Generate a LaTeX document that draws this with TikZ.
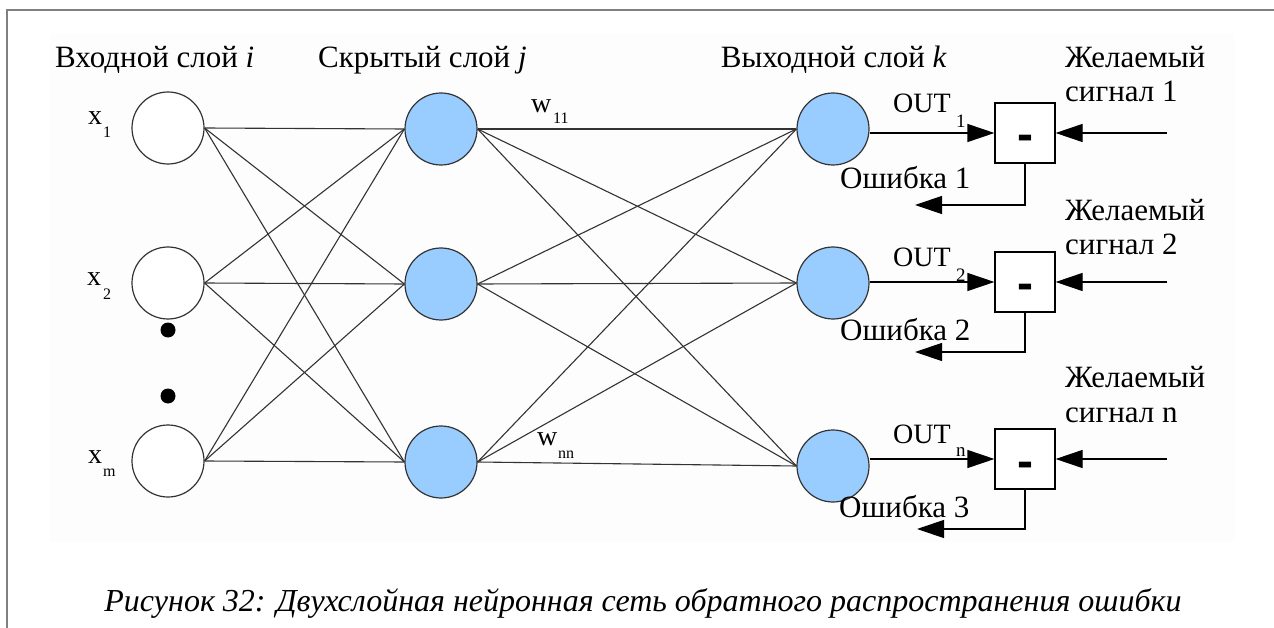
\documentclass[tikz,border=0pt]{standalone}
\usepackage{fontspec}
\setmainfont{Liberation Serif}
\newfontfamily\boxfont{Liberation Sans}
\usetikzlibrary{arrows.meta}
\definecolor{neuronblue}{HTML}{99CCFF}
\definecolor{edgegray}{HTML}{333333}
\definecolor{framegray}{HTML}{808080}
\definecolor{panelwhite}{HTML}{FDFDFD}

\begin{document}
\begin{tikzpicture}[x=1pt,y=-1pt,
  inneuron/.style={circle, draw=edgegray, line width=1.2pt, fill=white,
    minimum size=72pt, inner sep=0pt},
  neuron/.style={inneuron, fill=neuronblue},
  link/.style={draw=edgegray, line width=1.1pt},
  subbox/.style={draw=black, line width=1.2pt, fill=white,
    minimum width=60pt, minimum height=60pt, inner sep=0pt,
    text height=36pt, text depth=0pt,
    font=\fontsize{48}{48}\boxfont\bfseries},
  sig/.style={draw=black, line width=1.2pt,
    -{Triangle[length=27pt,width=18pt]}},
  lbl/.style={inner sep=0pt, font=\fontsize{31}{34}\selectfont},
  outlbl/.style={inner sep=0pt, font=\fontsize{28}{30}\selectfont},
  varlbl/.style={inner sep=0pt, font=\fontsize{28}{30}\selectfont},
  sublbl/.style={inner sep=0pt, font=\fontsize{16}{18}\selectfont},
  outsub/.style={inner sep=0pt, font=\fontsize{19}{20}\selectfont},
  dot/.style={circle, fill=black, minimum size=15pt, inner sep=0pt},
]
\useasboundingbox (0,0) rectangle (1274,628);

% page frame and faint panel behind the diagram
\fill[panelwhite] (50,33) rectangle (1235,542);
\draw[framegray, line width=2pt] (7,628) -- (7,10) -- (1274,10);

% layer headers
\node[lbl, anchor=base west] (hin) at (55,68) {Входной слой \textit{i}};
\node[lbl, anchor=base west] (hhid) at (318,68) {Скрытый слой \textit{j}};
\node[lbl, anchor=base east] (hout) at (947,68) {Выходной слой \textit{k}};

% neurons
\node[inneuron] (i1) at (168,128) {};
\node[inneuron] (i2) at (168,283) {};
\node[inneuron] (i3) at (168,461) {};
\node[neuron] (h1) at (441,129) {};
\node[neuron] (h2) at (441,284) {};
\node[neuron] (h3) at (441,462) {};
\node[neuron] (o1) at (833,129) {};
\node[neuron] (o2) at (833,283) {};
\node[neuron] (o3) at (833,466) {};

% omitted inputs
\node[dot] (dt1) at (168,330) {};
\node[dot] (dt2) at (168,396) {};

% input labels
\node[varlbl, anchor=base west] (x1) at (88,125) {x};
\node[sublbl, anchor=base west] (x1s) at (103,138) {1};
\node[varlbl, anchor=base west] (x2) at (87,286) {x};
\node[sublbl, anchor=base west] (x2s) at (103,300) {2};
\node[varlbl, anchor=base west] (x3) at (88,463) {x};
\node[sublbl, anchor=base west] (x3s) at (103,476) {m};

% full connections between layers
\foreach \a in {1,2,3}{
  \foreach \b in {1,2,3}{
    \draw[link] (i\a.east) -- (h\b.west);
    \draw[link] (h\a.east) -- (o\b.west);
  }
}

% weight labels
\node[varlbl, anchor=base west] (w1) at (531,113) {w};
\node[sublbl, anchor=base west] (w1s) at (553,124) {11};
\node[varlbl, anchor=base west] (w2) at (537,445) {w};
\node[sublbl, anchor=base west] (w2s) at (558,458) {nn};

% comparators
\node[subbox] (b1) at (1025,133) {-};
\node[subbox] (b2) at (1025,282) {-};
\node[subbox] (b3) at (1025,459) {-};

% outputs into comparators
\draw[sig] (o1.east |- b1.west) -- (b1.west);
\draw[sig] (o2.east |- b2.west) -- (b2.west);
\draw[sig] (o3.east |- b3.west) -- (b3.west);

\node[outlbl, anchor=base west] (out1) at (893,113) {OUT};
\node[outsub, anchor=base west] (out1s) at (956,128) {1};
\node[outlbl, anchor=base west] (out2) at (893,267) {OUT};
\node[outsub, anchor=base west] (out2s) at (956,282) {2};
\node[outlbl, anchor=base west] (out3) at (893,443) {OUT};
\node[outsub, anchor=base west] (out3s) at (956,456) {n};

% desired signals
\coordinate (d1) at (1167,133);
\coordinate (d2) at (1167,282);
\coordinate (d3) at (1167,459);
\draw[sig] (d1) -- (b1.east);
\draw[sig] (d2) -- (b2.east);
\draw[sig] (d3) -- (b3.east);

\node[lbl, anchor=base west] (ds1a) at (1065,68) {Желаемый};
\node[lbl, anchor=base west] (ds1b) at (1065,102) {сигнал 1};
\node[lbl, anchor=base west] (ds2a) at (1065,221) {Желаемый};
\node[lbl, anchor=base west] (ds2b) at (1065,255) {сигнал 2};
\node[lbl, anchor=base west] (ds3a) at (1065,387) {Желаемый};
\node[lbl, anchor=base west] (ds3b) at (1065,422) {сигнал n};

% error feedback
\coordinate (e1) at (915,205);
\coordinate (e2) at (915,352);
\coordinate (e3) at (917,529);
\draw[sig] (b1.south) |- (e1);
\draw[sig] (b2.south) |- (e2);
\draw[sig] (b3.south) |- (e3);

\node[lbl, anchor=base west] (er1) at (840,189) {Ошибка 1};
\node[lbl, anchor=base west] (er2) at (840,340) {Ошибка 2};
\node[lbl, anchor=base west] (er3) at (839,517) {Ошибка 3};

% caption
\node[inner sep=0pt, anchor=base, font=\fontsize{32}{38}\selectfont\itshape] (cap) at (643,611)
  {Рисунок 32: Двухслойная нейронная сеть обратного распространения ошибки};
\end{tikzpicture}
\end{document}
